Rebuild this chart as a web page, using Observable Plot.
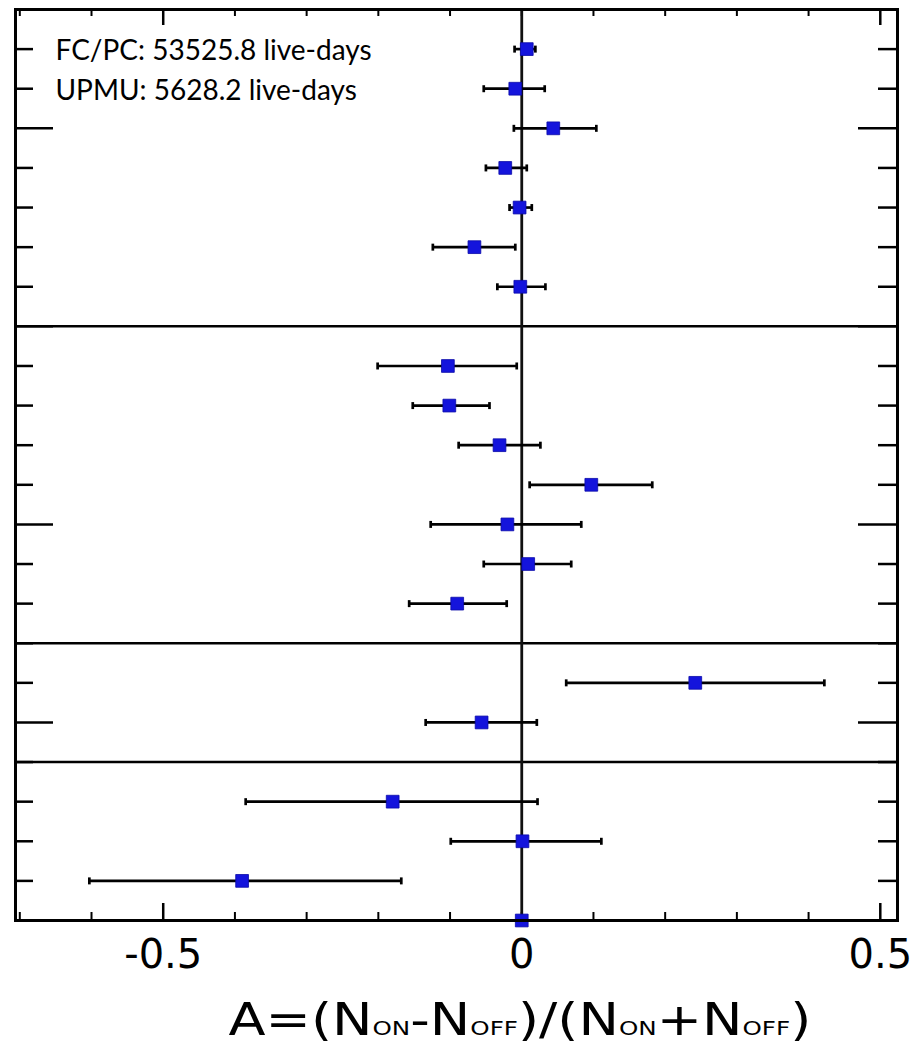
<!DOCTYPE html>
<html><head><meta charset="utf-8">
<script src="https://cdn.jsdelivr.net/npm/d3@7"></script>
<script src="https://cdn.jsdelivr.net/npm/@observablehq/plot@0.6"></script>
<style>
body{margin:0;background:#fff;}
#chart svg{display:block;}
#xwrap{width:914px;text-align:center;margin-top:2px;}
#xlabel{display:inline-block;font-family:"DejaVu Sans";font-size:44px;line-height:56px;color:#000;transform:translateX(63px) scaleX(1.23);transform-origin:center;}
#xlabel .s{font-size:20px;}
</style></head><body>
<div id="chart"></div>
<div id="xwrap"><span id="xlabel">A=(N<span class="s">ON</span>-N<span class="s">OFF</span>)/(N<span class="s">ON</span>+N<span class="s">OFF</span>)</span></div>
<script>
// row positions (top = 22, bottom = 0)
const rowPos = [22,21,20,19,18,17,16, 14,13,12,11,10,9,8, 6,5, 3,2,1,0];
const asym   = [0.007,-0.009,0.044,-0.023,-0.003,-0.066,-0.002, -0.103,-0.101,-0.031,0.097,-0.020,0.009,-0.090, 0.242,-0.056, -0.180,0.001,-0.390,0.000];
const errLo  = [-0.010,-0.053,-0.011,-0.050,-0.017,-0.124,-0.034, -0.201,-0.152,-0.088,0.011,-0.127,-0.053,-0.157, 0.062,-0.134, -0.385,-0.099,-0.603,null];
const errHi  = [0.019,0.032,0.104,0.007,0.014,-0.009,0.033, -0.007,-0.045,0.026,0.182,0.083,0.069,-0.021, 0.422,0.021, 0.022,0.111,-0.168,null];
const groupBreaks = [15, 7, 4];
const xTickLabels = [-0.5, 0, 0.5];
const xMinorTicks = [-0.7,-0.6,-0.4,-0.3,-0.2,-0.1,0,0.1,0.2,0.3,0.4];
const xMajorTicks = [-0.5, 0.5];
const yMinorTicks = [1,2,3,4,6,7,8,9,11,12,13,14,16,17,18,19,21,22];
const yMajorTicks = [5,10,15,20];
const annotation = ["FC/PC: 53525.8 live-days", "UPMU: 5628.2 live-days"];

const data = rowPos.map((y, i) => ({y, a: asym[i], lo: errLo[i], hi: errHi[i]}));
const bars = data.filter(d => d.lo != null);

const W = 914, H = 990, mL = 15, mR = 17, mT = 9, mB = 70;
const fw = W - mL - mR, fh = H - mT - mB;

const cap = {draw(ctx, size){ const r = Math.sqrt(size/Math.PI); ctx.moveTo(0,-r); ctx.lineTo(0,r); }};

const plot = Plot.plot({
  width: W, height: H,
  marginLeft: mL, marginRight: mR, marginTop: mT, marginBottom: mB,
  style: {fontFamily: "DejaVu Sans", background: "#fff", overflow: "visible"},
  x: {domain: [-0.706, 0.524], axis: null},
  y: {domain: [0, 23], axis: null},
  marks: [
    // ticks
    Plot.ruleX(xMinorTicks, {insetTop: fh - 8, stroke: "black", strokeWidth: 2}),
    Plot.ruleX(xMinorTicks, {insetBottom: fh - 7, stroke: "black", strokeWidth: 2}),
    Plot.ruleX(xMajorTicks, {insetTop: fh - 17, stroke: "black", strokeWidth: 2.5}),
    Plot.ruleX(xMajorTicks, {insetBottom: fh - 16, stroke: "black", strokeWidth: 2.5}),
    Plot.ruleY(yMinorTicks, {insetRight: fw - 18, stroke: "black", strokeWidth: 2.5}),
    Plot.ruleY(yMinorTicks, {insetLeft: fw - 19, stroke: "black", strokeWidth: 2.5}),
    Plot.ruleY(yMajorTicks, {insetRight: fw - 38, stroke: "black", strokeWidth: 2.5}),
    Plot.ruleY(yMajorTicks, {insetLeft: fw - 39, stroke: "black", strokeWidth: 2.5}),
    // separators and zero line
    Plot.ruleY(groupBreaks, {stroke: "black", strokeWidth: 2.5}),
    Plot.ruleX([0], {stroke: "#111", strokeWidth: 2.8}),
    // error bars
    Plot.ruleY(bars, {y: "y", x1: "lo", x2: "hi", stroke: "black", strokeWidth: 2.7}),
    Plot.dot(bars, {x: "lo", y: "y", symbol: cap, r: 3.5, stroke: "black", strokeWidth: 2.7}),
    Plot.dot(bars, {x: "hi", y: "y", symbol: cap, r: 3.5, stroke: "black", strokeWidth: 2.7}),
    // points
    Plot.dot(data, {x: "a", y: "y", symbol: "square", r: 7.2, fill: "#1414dc", stroke: "#0a0aa8", strokeWidth: 0.8}),
    // frame
    Plot.frame({stroke: "black", strokeWidth: 3}),
    // tick labels
    Plot.axisX(xTickLabels, {anchor: "bottom", tickSize: 0, tickPadding: 19, fontSize: 40, fontFamily: "DejaVu Sans", fill: "black", tickFormat: d => String(d)}),
    // annotation
    Plot.text([annotation.join("\n")], {frameAnchor: "top-left", text: d => d, dx: 40, dy: 21, fontSize: 28, fontFamily: "Lato", lineHeight: 1.46, textAnchor: "start", lineAnchor: "top", fill: "black"})
  ]
});
document.getElementById("chart").appendChild(plot);
</script>
</body></html>
